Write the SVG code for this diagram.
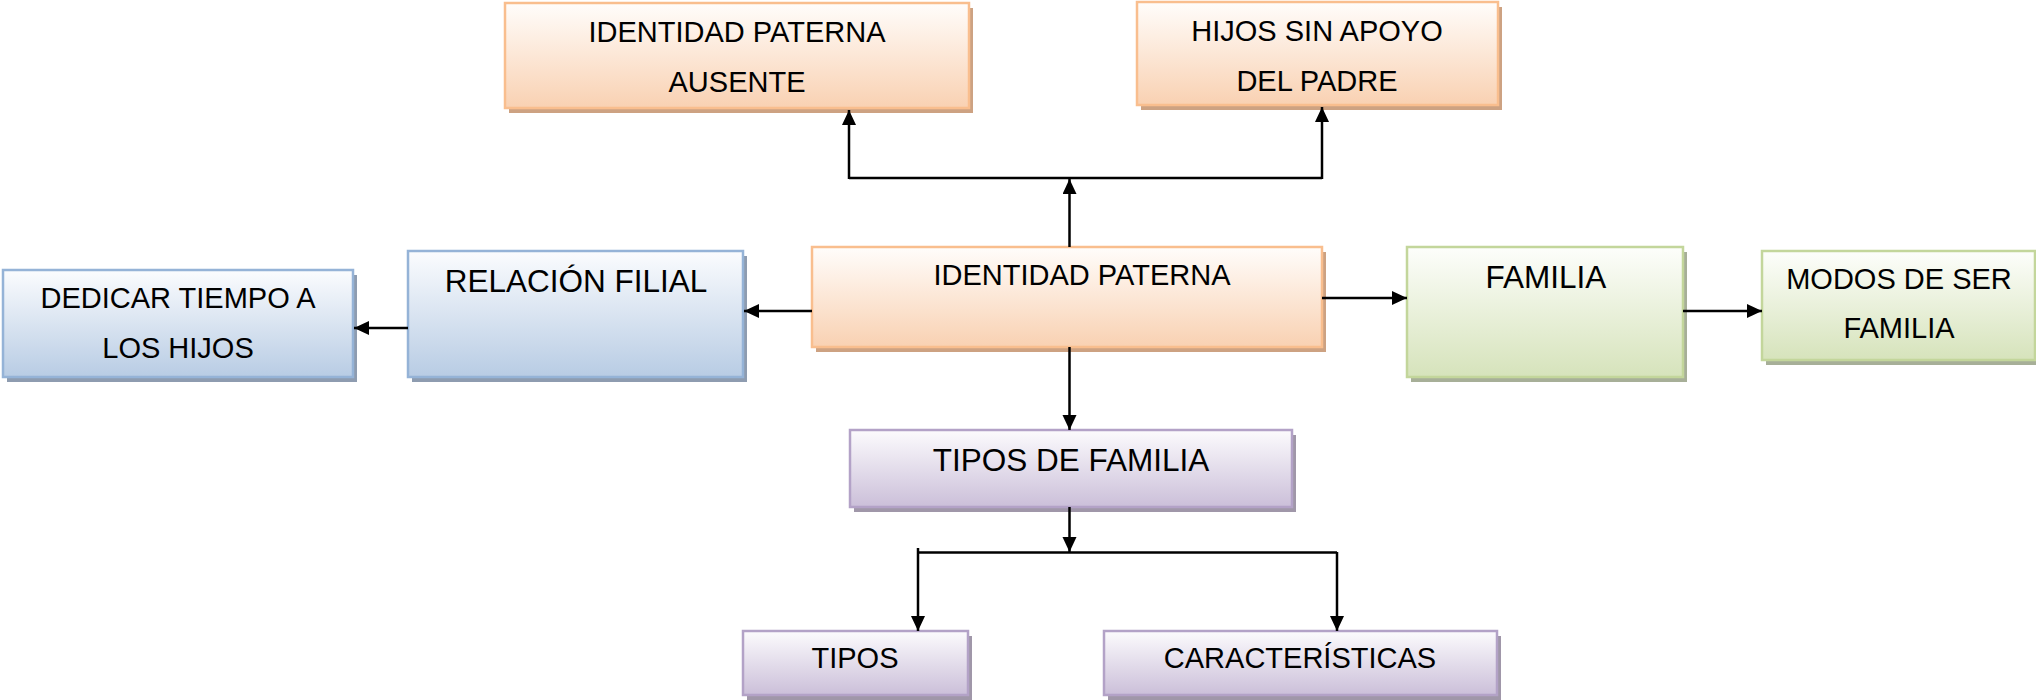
<svg xmlns="http://www.w3.org/2000/svg" width="2036" height="700" viewBox="0 0 2036 700">
<defs>
<linearGradient id="gO" x1="0" y1="0" x2="0" y2="1"><stop offset="0" stop-color="#fffdfb"/><stop offset="1" stop-color="#f9d1b2"/></linearGradient>
<linearGradient id="gB" x1="0" y1="0" x2="0" y2="1"><stop offset="0" stop-color="#fbfcfe"/><stop offset="1" stop-color="#b8cce4"/></linearGradient>
<linearGradient id="gG" x1="0" y1="0" x2="0" y2="1"><stop offset="0" stop-color="#fdfefb"/><stop offset="1" stop-color="#d6e3bb"/></linearGradient>
<linearGradient id="gP" x1="0" y1="0" x2="0" y2="1"><stop offset="0" stop-color="#fcfbfd"/><stop offset="1" stop-color="#cbbfd9"/></linearGradient>
<marker id="ah" markerUnits="userSpaceOnUse" markerWidth="16" markerHeight="15" refX="15" refY="7" orient="auto">
<path d="M0,0 L15,7 L0,14 z" fill="#000"/>
</marker>
<style>
.o{fill:url(#gO);stroke:#f9be8e;stroke-width:2.5}
.os{fill:#cda282}
.b{fill:url(#gB);stroke:#95b3d7;stroke-width:2.5}
.bs{fill:#8e9cb0}
.g{fill:url(#gG);stroke:#c3d69b;stroke-width:2.5}
.gs{fill:#a7af98}
.p{fill:url(#gP);stroke:#b3a2c7;stroke-width:2.5}
.ps{fill:#a097a9}
text{font-family:"Liberation Sans",Arial,sans-serif;fill:#000;text-anchor:middle}
.t29{font-size:29px}
.t31{font-size:31.5px}
.c{fill:none;stroke:#000;stroke-width:2.5}
.ca{fill:none;stroke:#000;stroke-width:2.5;marker-end:url(#ah)}
</style>
</defs>
<rect width="2036" height="700" fill="#fff"/>

<g id="n-ausente">
<rect class="os" x="509" y="8" width="464" height="105"/>
<rect class="o" x="505" y="3" width="464" height="105"/>
<text class="t29" x="737" y="42">IDENTIDAD PATERNA</text>
<text class="t29" x="737" y="92">AUSENTE</text>
</g>
<g id="n-hijos">
<rect class="os" x="1141" y="7" width="361" height="103"/>
<rect class="o" x="1137" y="2" width="361" height="103"/>
<text class="t29" x="1317" y="41">HIJOS SIN APOYO</text>
<text class="t29" x="1317" y="91">DEL PADRE</text>
</g>
<g id="n-identidad">
<rect class="os" x="816" y="252" width="510" height="100"/>
<rect class="o" x="812" y="247" width="510" height="100"/>
<text class="t29" x="1082" y="285">IDENTIDAD PATERNA</text>
</g>
<g id="n-relacion">
<rect class="bs" x="412" y="256" width="335" height="126"/>
<rect class="b" x="408" y="251" width="335" height="126"/>
<text class="t31" x="576" y="292">RELACIÓN FILIAL</text>
</g>
<g id="n-dedicar">
<rect class="bs" x="7" y="275" width="350" height="107"/>
<rect class="b" x="3" y="270" width="350" height="107"/>
<text class="t29" x="178" y="308">DEDICAR TIEMPO A</text>
<text class="t29" x="178" y="358">LOS HIJOS</text>
</g>
<g id="n-familia">
<rect class="gs" x="1411" y="252" width="276" height="130"/>
<rect class="g" x="1407" y="247" width="276" height="130"/>
<text class="t31" x="1546" y="288">FAMILIA</text>
</g>
<g id="n-modos">
<rect class="gs" x="1766" y="256" width="273" height="109"/>
<rect class="g" x="1762" y="251" width="273" height="109"/>
<text class="t29" x="1899" y="289">MODOS DE SER</text>
<text class="t29" x="1899" y="338">FAMILIA</text>
</g>
<g id="n-tiposfam">
<rect class="ps" x="854" y="435" width="442" height="77"/>
<rect class="p" x="850" y="430" width="442" height="77"/>
<text class="t31" x="1071" y="471">TIPOS DE FAMILIA</text>
</g>
<g id="n-tipos">
<rect class="ps" x="747" y="636" width="225" height="64"/>
<rect class="p" x="743" y="631" width="225" height="64"/>
<text class="t29" x="855" y="668">TIPOS</text>
</g>
<g id="n-caract">
<rect class="ps" x="1108" y="636" width="393" height="64"/>
<rect class="p" x="1104" y="631" width="393" height="64"/>
<text class="t29" x="1300" y="668">CARACTERÍSTICAS</text>
</g>

<g id="connectors">
<path class="ca" d="M1069.5,247 V179"/>
<path class="c" d="M849,178 H1322"/>
<path class="ca" d="M849,179 V110"/>
<path class="ca" d="M1322,179 V107"/>
<path class="ca" d="M812,311 H744"/>
<path class="ca" d="M408,328 H354"/>
<path class="ca" d="M1322,298 H1407"/>
<path class="ca" d="M1683,311 H1762"/>
<path class="ca" d="M1069.5,347 V430"/>
<path class="ca" d="M1069.5,507 V552"/>
<path class="c" d="M918,552.5 H1337"/>
<path class="ca" d="M918,548 V631"/>
<path class="ca" d="M1337,552 V631"/>
</g>
</svg>
